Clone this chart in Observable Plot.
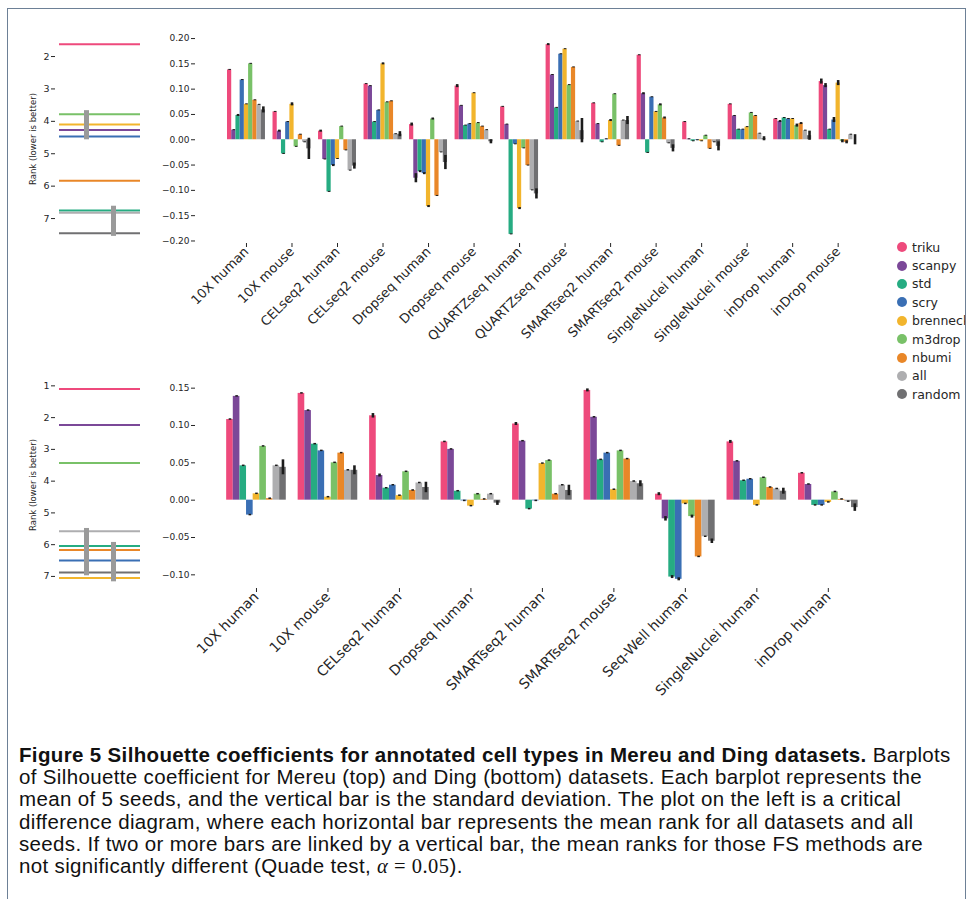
<!DOCTYPE html>
<html><head><meta charset="utf-8">
<script src="https://cdn.jsdelivr.net/npm/d3@7"></script>
<script src="https://cdn.jsdelivr.net/npm/@observablehq/plot@0.6"></script>
<style>
html,body{margin:0;padding:0;background:#fff;}
body{width:972px;height:899px;overflow:hidden;position:relative;font-family:"DejaVu Sans",sans-serif;}
#frame{position:absolute;left:7px;top:8px;width:957px;height:920px;border:1.6px solid #6d8096;border-bottom:none;}
.abs{position:absolute;}
.ylab{position:absolute;width:160px;height:12px;line-height:12px;text-align:center;font-family:"DejaVu Sans",sans-serif;font-size:8.5px;color:#262626;transform:translate(-50%,-50%) rotate(-90deg);white-space:nowrap;}
#legend{position:absolute;left:895px;top:238px;width:70px;overflow:hidden;font-family:"DejaVu Sans",sans-serif;font-size:12.5px;color:#262626;}
#legend .it{height:18.4px;display:flex;align-items:center;white-space:nowrap;}
#legend .dot{width:10px;height:10px;border-radius:50%;margin-left:2px;margin-right:5px;flex:none;}
#caption{position:absolute;left:19px;top:744px;font-family:"Liberation Sans",Arial,sans-serif;font-size:20.5px;letter-spacing:0.35px;line-height:22.2px;color:#111;white-space:nowrap;}
#caption .m{font-family:"Liberation Serif",serif;letter-spacing:0.5px;}
</style>
</head><body>
<div id="frame"></div>
<div id="rankTop" class="abs" style="left:0;top:20px"></div>
<div id="barTop" class="abs" style="left:150px;top:20px"></div>
<div id="rankBot" class="abs" style="left:0;top:365px"></div>
<div id="barBot" class="abs" style="left:150px;top:365px"></div>
<div class="ylab" style="left:33px;top:138.5px">Rank (lower is better)</div>
<div class="ylab" style="left:33px;top:485px">Rank (lower is better)</div>
<div id="legend"></div>
<div id="caption">
<div><b>Figure 5 Silhouette coefficients for annotated cell types in Mereu and Ding datasets.</b> Barplots</div>
<div>of Silhouette coefficient for Mereu (top) and Ding (bottom) datasets. Each barplot represents the</div>
<div>mean of 5 seeds, and the vertical bar is the standard deviation. The plot on the left is a critical</div>
<div>difference diagram, where each horizontal bar represents the mean rank for all datasets and all</div>
<div>seeds. If two or more bars are linked by a vertical bar, the mean ranks for those FS methods are</div>
<div>not significantly different (Quade test, <span class="m"><i>α</i> = 0.05</span>).</div>
</div>
<script>
const methods = ["triku","scanpy","std","scry","brennecke","m3drop","nbumi","all","random"];
const colors = ["#ee4a7c","#7b4898","#26ac82","#3a6fb4","#f2b52d","#79c168","#e98728","#aeaeb0","#707072"];

const topDatasets = ["10X human","10X mouse","CELseq2 human","CELseq2 mouse","Dropseq human","Dropseq mouse","QUARTZseq human","QUARTZseq mouse","SMARTseq2 human","SMARTseq2 mouse","SingleNuclei human","SingleNuclei mouse","inDrop human","inDrop mouse"];
// rows: datasets, columns: methods
const topMean = [
  [0.138, 0.019, 0.048, 0.118, 0.070, 0.150, 0.078, 0.069, 0.059],
  [0.055, 0.017, -0.028, 0.035, 0.070, -0.014, 0.010, -0.005, -0.018],
  [0.017, -0.039, -0.103, -0.051, -0.038, 0.026, -0.021, -0.061, -0.052],
  [0.110, 0.106, 0.035, 0.058, 0.150, 0.074, 0.076, 0.011, 0.011],
  [0.030, -0.076, -0.063, -0.067, -0.132, 0.041, -0.111, -0.025, -0.045],
  [0.106, 0.067, 0.028, 0.031, 0.092, 0.033, 0.026, 0.019, -0.004],
  [0.065, 0.030, -0.187, -0.009, -0.136, -0.017, -0.051, -0.100, -0.107],
  [0.188, 0.128, 0.063, 0.169, 0.179, 0.108, 0.143, 0.036, 0.018],
  [0.072, 0.031, -0.005, 0.001, 0.038, 0.090, -0.012, 0.038, 0.038],
  [0.167, 0.091, -0.026, 0.084, 0.055, 0.069, 0.043, -0.007, -0.017],
  [0.035, 0.001, -0.003, -0.001, -0.003, 0.008, -0.018, -0.005, -0.013],
  [0.070, 0.047, 0.020, 0.020, 0.025, 0.053, 0.047, 0.012, 0.002],
  [0.041, 0.036, 0.043, 0.041, 0.041, 0.028, 0.032, 0.018, 0.008],
  [0.115, 0.107, 0.020, 0.039, 0.112, -0.003, -0.005, 0.010, 0.000]
];
const topSd = [
  [0.001,0.001,0.002,0.001,0.001,0.001,0.001,0.001,0.006],
  [0.001,0.002,0.001,0.001,0.003,0.001,0.001,0.001,0.021],
  [0.002,0.001,0.001,0.002,0.001,0.001,0.001,0.001,0.006],
  [0.001,0.001,0.001,0.001,0.002,0.001,0.001,0.001,0.005],
  [0.003,0.009,0.002,0.002,0.002,0.002,0.001,0.001,0.014],
  [0.003,0.001,0.001,0.001,0.001,0.001,0.001,0.001,0.004],
  [0.001,0.001,0.001,0.001,0.002,0.001,0.001,0.001,0.010],
  [0.002,0.001,0.001,0.001,0.001,0.001,0.001,0.001,0.024],
  [0.001,0.001,0.001,0.001,0.002,0.001,0.001,0.001,0.008],
  [0.001,0.002,0.001,0.001,0.001,0.002,0.002,0.001,0.007],
  [0.001,0.001,0.001,0.001,0.001,0.001,0.001,0.001,0.009],
  [0.001,0.001,0.001,0.001,0.001,0.001,0.001,0.001,0.004],
  [0.001,0.002,0.001,0.001,0.001,0.003,0.002,0.001,0.009],
  [0.005,0.004,0.001,0.005,0.005,0.003,0.003,0.001,0.010]
];
const topRank = [1.62, 4.27, 6.75, 4.47, 4.10, 3.78, 5.83, 6.82, 7.45];
const topCliques = [[3.67, 4.57], [6.62, 7.55]];

const botDatasets = ["10X human","10X mouse","CELseq2 human","Dropseq human","SMARTseq2 human","SMARTseq2 mouse","Seq-Well human","SingleNuclei human","inDrop human"];
const botMean = [
  [0.108, 0.139, 0.046, -0.020, 0.0085, 0.072, 0.002, 0.046, 0.044],
  [0.143, 0.120, 0.075, 0.066, 0.004, 0.050, 0.063, 0.040, 0.040],
  [0.113, 0.033, 0.016, 0.020, 0.006, 0.038, 0.013, 0.023, 0.017],
  [0.078, 0.068, 0.012, -0.001, -0.008, 0.008, 0.001, 0.008, -0.004],
  [0.102, 0.079, -0.012, -0.001, 0.049, 0.053, 0.008, 0.020, 0.013],
  [0.147, 0.111, 0.054, 0.063, 0.014, 0.066, 0.055, 0.025, 0.022],
  [0.008, -0.025, -0.103, -0.106, -0.005, -0.022, -0.076, -0.049, -0.055],
  [0.078, 0.052, 0.026, 0.028, -0.007, 0.030, 0.017, 0.015, 0.012],
  [0.036, 0.021, -0.007, -0.007, -0.003, 0.011, 0.001, -0.002, -0.010]
];
const botSd = [
  [0.001,0.001,0.001,0.001,0.001,0.001,0.001,0.001,0.010],
  [0.001,0.001,0.001,0.001,0.001,0.001,0.001,0.001,0.006],
  [0.003,0.002,0.001,0.001,0.001,0.001,0.001,0.001,0.007],
  [0.001,0.001,0.001,0.001,0.001,0.001,0.001,0.001,0.003],
  [0.002,0.001,0.001,0.001,0.001,0.001,0.001,0.001,0.007],
  [0.002,0.001,0.001,0.001,0.001,0.001,0.001,0.001,0.004],
  [0.002,0.003,0.002,0.002,0.001,0.002,0.001,0.001,0.003],
  [0.002,0.001,0.001,0.001,0.001,0.001,0.001,0.001,0.004],
  [0.001,0.001,0.001,0.001,0.001,0.001,0.001,0.001,0.005]
];
const botRank = [1.10, 2.23, 6.04, 6.50, 7.05, 3.43, 6.17, 5.58, 6.88];
const botCliques = [[5.49, 6.98], [5.93, 7.17]];

const INK = "#262626";
const baseStyle = {background:"transparent", overflow:"visible", fontFamily:"DejaVu Sans", fontSize:"9px", color:INK};

function rankPlot(rank, cliques, yDomain, ticks) {
  const rows = methods.map((m, j) => ({method: m, rank: rank[j]}));
  const cl = cliques.map((c, k) => ({pos: k + 1, lo: c[0], hi: c[1]}));
  return Plot.plot({
    width: 150, height: 225, marginLeft: 59, marginRight: 10, marginTop: 14, marginBottom: 2,
    style: baseStyle,
    x: {domain: [0, 3], axis: null},
    y: {domain: yDomain},
    color: {domain: methods, range: colors},
    marks: [
      Plot.ruleY(rows, {y: "rank", stroke: "method", strokeWidth: 2}),
      Plot.ruleX(cl, {x: "pos", y1: "lo", y2: "hi", stroke: "#9a9a9a", strokeWidth: 5}),
      Plot.axisY({ticks, tickFormat: d3.format("d"), tickSize: 4, tickPadding: 2, line: true, dx: -4, stroke: INK, fontSize: 9.5, label: null})
    ]
  });
}

function barPlot(datasets, means, sds, xDomain, yDomain, yTicks, marginBottom, labelSize) {
  const w = 0.834 / methods.length;
  const data = [];
  datasets.forEach((ds, i) => methods.forEach((m, j) => data.push({
    dataset: ds, method: m, mean: means[i][j], sd: sds[i][j],
    x1: i + (j - 4.5) * w, x2: i + (j - 3.5) * w, xc: i + (j - 4) * w
  })));
  return Plot.plot({
    width: 750, height: 14 + 209 + marginBottom, marginLeft: 45, marginRight: 20, marginTop: 14, marginBottom,
    style: baseStyle,
    x: {domain: xDomain},
    y: {domain: yDomain},
    color: {domain: methods, range: colors},
    marks: [
      Plot.rectY(data, {x1: "x1", x2: "x2", y1: 0, y2: "mean", fill: "method"}),
      Plot.ruleX(data, {x: "xc", y1: d => d.mean - d.sd, y2: d => d.mean + d.sd, stroke: "#1c1c1c", strokeWidth: 2.6}),
      Plot.axisY({ticks: yTicks, tickFormat: d3.format(".2f"), tickSize: 4, tickPadding: 2, line: true, stroke: INK, label: null}),
      Plot.axisX({ticks: datasets.map((d, i) => i), tickFormat: i => datasets[i], tickRotate: -45, tickSize: 4,
        tickPadding: 2, line: true, stroke: INK, fontSize: labelSize, label: null})
    ]
  });
}

document.getElementById("rankTop").append(rankPlot(topRank, topCliques, [7.77, 1.32], [2,3,4,5,6,7]));
document.getElementById("rankBot").append(rankPlot(botRank, botCliques, [7.38, 0.80], [1,2,3,4,5,6,7]));
document.getElementById("barTop").append(barPlot(topDatasets, topMean, topSd, [-1.12, 13.93], [-0.205, 0.208],
  [-0.20,-0.15,-0.10,-0.05,0,0.05,0.10,0.15,0.20], 115, 13));
document.getElementById("barBot").append(barPlot(botDatasets, botMean, botSd, [-0.853, 8.73], [-0.1183, 0.1616],
  [-0.10,-0.05,0,0.05,0.10,0.15], 125, 14));

const leg = document.getElementById("legend");
methods.forEach((m, j) => {
  const it = document.createElement("div");
  it.className = "it";
  const dot = document.createElement("span");
  dot.className = "dot";
  dot.style.background = colors[j];
  it.append(dot, document.createTextNode(m));
  leg.append(it);
});
</script>
</body></html>
